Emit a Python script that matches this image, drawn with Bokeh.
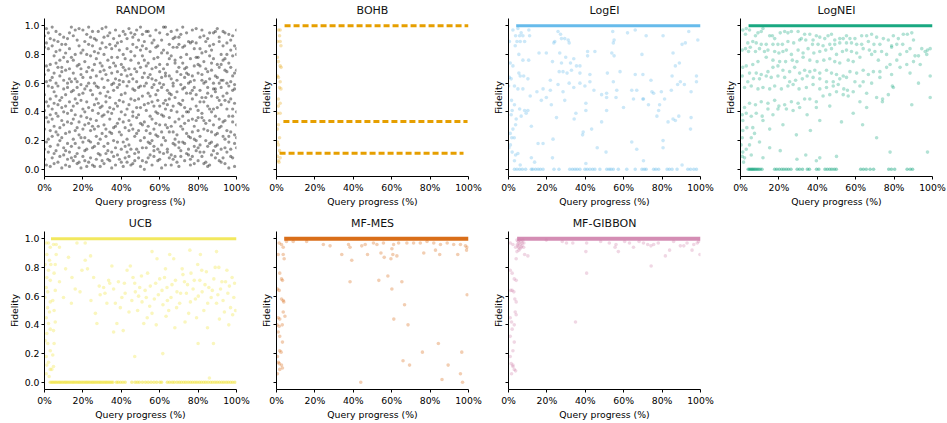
from bokeh.plotting import figure
from bokeh.models import FixedTicker, PrintfTickFormatter, CustomJSTickFormatter, Title
from bokeh.layouts import row, column
from bokeh.embed import file_html
from bokeh.resources import INLINE

# ---------------- data (x = query progress in %, y = fidelity) ----------------
TITLES = ["RANDOM", "BOHB", "LogEI", "LogNEI", "UCB", "MF-MES", "MF-GIBBON"]
COLORS = ["#000000", "#E69F00", "#56B4E9", "#009E73", "#F0E442", "#D55E00", "#CC79A7"]
X_TICKS = [0, 20, 40, 60, 80, 100]
Y_TICKS = [0.0, 0.2, 0.4, 0.6, 0.8, 1.0]

# RANDOM: row i holds the fidelities sampled at i % of the query budget
RANDOM_Y = [
    [.93, .41, .07, .66, .28, .85, .52, .14], [.36, .98, .61, .19, .03, .47, .72, .88],
    [.58, .12, .84, .33, .69, .95, .21, .44], [.27, .73, .49, .91, .16, .38, .62, .02],
    [.64, .08, .35, .57, .86, .23, .99, .42], [.11, .54, .79, .30, .46, .67, .04, .90],
    [.82, .39, .26, .74, .60, .13, .51, .96], [.45, .89, .17, .05, .71, .58, .37, .24],
    [.20, .65, .94, .48, .09, .83, .29, .76], [.71, .01, .43, .87, .34, .22, .68, .50],
    [.15, .78, .56, .40, .92, .62, .10, .31], [.87, .25, .03, .69, .52, .44, .81, .13],
    [.39, .60, .91, .18, .75, .07, .33, .57], [.02, .47, .70, .84, .26, .95, .12, .63],
    [.54, .32, .16, .61, .99, .41, .78, .08], [.76, .93, .44, .21, .06, .55, .67, .35],
    [.09, .18, .63, .97, .38, .80, .49, .27], [.61, .72, .29, .11, .57, .04, .90, .46],
    [.33, .05, .86, .52, .73, .24, .15, .98], [.48, .81, .37, .66, .01, .59, .22, .70],
    [.97, .28, .53, .09, .64, .42, .83, .19], [.22, .56, .75, .31, .89, .13, .40, .06],
    [.68, .14, .02, .80, .47, .36, .94, .58], [.05, .87, .60, .43, .20, .71, .32, .99],
    [.79, .35, .19, .92, .55, .08, .64, .27], [.41, .69, .96, .15, .30, .86, .03, .52],
    [.16, .02, .45, .73, .82, .60, .28, .91], [.58, .90, .34, .23, .07, .49, .77, .65],
    [.30, .46, .81, .57, .96, .18, .11, .39], [.84, .21, .10, .68, .43, .74, .53, .02],
    [.06, .63, .72, .37, .25, .98, .88, .44], [.92, .38, .57, .04, .69, .31, .16, .80],
    [.47, .11, .28, .85, .51, .66, .99, .23], [.13, .76, .93, .40, .18, .07, .62, .54],
    [.71, .50, .06, .26, .95, .43, .35, .87], [.25, .84, .67, .12, .39, .78, .01, .59],
    [.60, .29, .42, .91, .74, .20, .55, .09], [.03, .97, .15, .63, .46, .86, .30, .72],
    [.88, .44, .78, .32, .10, .57, .68, .19], [.35, .07, .59, .83, .62, .26, .93, .48],
    [.52, .73, .24, .05, .89, .40, .14, .66], [.19, .61, .96, .47, .33, .71, .80, .02],
    [.77, .16, .38, .69, .08, .94, .53, .29], [.42, .91, .05, .21, .58, .12, .65, .84],
    [.09, .34, .70, .98, .27, .45, .17, .61], [.66, .82, .49, .14, .76, .31, .03, .95],
    [.28, .04, .87, .56, .40, .63, .92, .37], [.94, .55, .23, .79, .11, .06, .48, .70],
    [.14, .68, .61, .36, .85, .97, .25, .43], [.57, .27, .12, .90, .49, .74, .38, .08],
    [.83, .43, .99, .02, .20, .58, .71, .32], [.31, .79, .51, .64, .94, .15, .06, .86],
    [.00, .58, .33, .45, .67, .89, .22, .76], [.72, .15, .84, .27, .05, .41, .60, .96],
    [.46, .96, .08, .74, .53, .30, .19, .64], [.18, .37, .66, .10, .82, .51, .93, .25],
    [.63, .70, .20, .88, .35, .03, .47, .57], [.90, .09, .44, .59, .16, .77, .28, .13],
    [.24, .52, .97, .32, .71, .62, .85, .40], [.55, .86, .14, .06, .48, .23, .39, .78],
    [.07, .31, .73, .95, .60, .44, .12, .68], [.81, .64, .38, .17, .26, .90, .57, .01],
    [.37, .22, .59, .83, .99, .11, .70, .46], [.65, .99, .03, .48, .42, .67, .31, .20],
    [.12, .45, .81, .29, .14, .55, .94, .73], [.49, .77, .26, .65, .87, .36, .08, .53],
    [.96, .10, .52, .41, .03, .79, .63, .30], [.26, .60, .91, .07, .58, .18, .44, .85],
    [.74, .33, .17, .76, .92, .50, .21, .09], [.40, .85, .68, .54, .24, .05, .97, .62],
    [.02, .19, .46, .92, .71, .87, .35, .15], [.59, .94, .30, .13, .45, .66, .09, .78],
    [.85, .48, .74, .37, .19, .28, .56, .99], [.32, .06, .57, .70, .86, .43, .18, .64],
    [.67, .71, .11, .25, .53, .95, .80, .40], [.10, .40, .89, .60, .34, .14, .66, .23],
    [.53, .88, .22, .03, .77, .61, .42, .07], [.89, .26, .65, .49, .09, .35, .97, .55],
    [.21, .57, .04, .84, .62, .72, .30, .16], [.44, .13, .78, .34, .98, .20, .52, .88],
    [.78, .67, .36, .15, .41, .06, .73, .27], [.17, .92, .55, .72, .23, .84, .12, .47],
    [.62, .36, .09, .97, .66, .50, .39, .81], [.04, .75, .47, .28, .12, .93, .60, .34],
    [.50, .20, .82, .61, .89, .32, .05, .70], [.91, .53, .27, .44, .57, .68, .16, .02],
    [.34, .03, .63, .86, .18, .42, .79, .95], [.69, .83, .40, .19, .74, .10, .51, .26],
    [.13, .42, .95, .56, .31, .77, .87, .60], [.56, .65, .16, .08, .96, .54, .24, .37],
    [.98, .17, .50, .73, .43, .25, .64, .11], [.29, .89, .71, .35, .06, .60, .92, .48],
    [.73, .30, .05, .62, .80, .14, .45, .57], [.08, .62, .86, .23, .51, .96, .33, .76],
    [.48, .95, .34, .77, .15, .04, .69, .21], [.80, .12, .60, .42, .68, .88, .27, .53],
    [.23, .74, .19, .94, .37, .47, .58, .01], [.61, .49, .83, .09, .26, .71, .14, .90],
    [.37, .08, .42, .55, .93, .33, .79, .65], [.86, .56, .24, .67, .02, .59, .46, .18],
    [.15, .80, .69, .31, .84, .22, .97, .40],
]

# BOHB: early scattered points and the three fidelity levels (1, 1/3, 1/9)
BOHB_PTS = [(1.0, .97), (1.9, .97), (1.6, .93), (0.5, .89), (1.9, .89), (2.3, .86),
            (0.5, .78), (1.0, .75), (1.9, .72), (2.4, .71), (0.5, .65), (1.0, .64),
            (1.9, .61), (1.6, .57), (2.3, .56), (1.0, .49), (1.9, .46), (1.0, .44),
            (0.5, .39), (1.9, .39), (1.0, .31), (0.5, .28), (1.6, .22), (1.0, .17),
            (1.6, .13), (0.5, .09), (1.9, .08), (1.0, .06), (1.3, .05), (0.5, .19)]
BOHB_LEVELS = [1.0, 0.333, 0.111]
BOHB_START = [4.2, 3.6, 1.6]
BOHB_END = [100.0, 99.5, 97.4]

# where the dense band of full-fidelity queries (y = 1) starts
BAND_START = {"LogEI": 4.0, "LogNEI": 4.2, "UCB": 3.4, "MF-MES": 4.0, "MF-GIBBON": 4.5}

LOGEI_PTS = [
    (4.9, .98), (2.3, .97), (6.6, .95), (10.6, .97), (3.7, .93), (5.8, .93), (7.5, .93),
    (0.5, .89), (4.4, .89), (3.5, .86), (6.1, .89), (8.4, .89), (11.0, .93), (25.8, .96),
    (27.1, .94), (24.1, .89), (23.6, .88), (27.6, .91), (29.3, .91), (31.1, .90), (31.6, .88),
    (54.3, .96), (55.0, .90), (54.6, .88), (62.0, .95), (66.0, .97), (71.7, .93), (80.5, .93),
    (93.9, .96), (98.6, .90), (92.1, .88), (90.4, .87), (5.4, .80), (7.5, .76), (10.5, .76),
    (19.7, .81), (15.9, .81), (26.7, .81), (22.9, .75), (27.6, .74), (32.3, .74), (35.4, .72),
    (37.2, .72), (41.2, .82), (45.0, .82), (41.2, .79), (29.8, .78), (34.0, .77), (26.4, .68),
    (28.4, .68), (30.5, .67), (32.8, .69), (37.2, .67), (42.4, .66), (51.5, .67), (53.8, .81),
    (55.0, .79), (58.1, .68), (69.5, .80), (66.0, .66), (70.0, .66), (74.2, .62), (85.7, .81),
    (86.9, .72), (89.5, .61), (85.2, .65), (89.0, .74), (97.9, .65), (0.9, .74), (2.3, .72),
    (5.4, .67), (0.5, .64), (1.4, .63), (6.1, .65), (7.9, .65), (10.1, .63), (3.1, .58),
    (4.9, .56), (7.5, .56), (11.3, .51), (14.8, .54), (18.0, .56), (21.8, .62), (21.8, .55),
    (25.8, .59), (28.4, .54), (31.6, .60), (34.0, .57), (37.2, .60), (39.8, .58), (42.4, .61),
    (44.5, .55), (48.5, .52), (51.1, .53), (54.6, .61), (56.4, .55), (64.2, .55), (66.8, .55),
    (70.0, .49), (75.6, .53), (79.6, .54), (81.3, .49), (84.8, .55), (88.1, .59), (91.6, .59),
    (95.1, .54), (97.9, .61), (0.0, .58), (1.6, .48), (3.1, .45), (1.9, .41), (5.8, .42),
    (8.4, .41), (10.1, .41), (6.6, .37), (4.0, .35), (1.4, .38), (3.7, .31), (2.3, .28),
    (0.9, .25), (3.0, .22), (1.7, .22), (1.0, .17), (0.2, .15), (1.9, .12), (3.7, .10),
    (4.9, .11), (3.1, .06), (6.1, .03), (9.2, .39), (11.9, .30), (17.1, .48), (19.7, .50),
    (22.3, .45), (25.0, .36), (29.3, .48), (34.2, .35), (35.1, .39), (40.3, .46), (40.3, .41),
    (43.3, .28), (38.9, .26), (38.6, .24), (48.5, .33), (51.1, .41), (51.1, .50), (56.0, .50),
    (59.9, .43), (65.1, .49), (70.3, .49), (74.7, .54), (72.9, .45), (78.7, .45), (78.2, .41),
    (77.3, .37), (83.1, .33), (85.7, .35), (86.9, .34), (88.7, .37), (95.1, .36), (94.8, .28),
    (64.2, .19), (66.8, .14), (70.3, .06), (80.5, .20), (80.5, .15), (90.4, .03), (46.2, .15),
    (50.8, .12), (40.3, .04), (23.2, .21), (15.4, .18), (18.0, .18), (11.9, .08), (13.6, .05),
    (22.9, .08),
]
LOGEI_ZERO_X = [3.1, 4.4, 5.8, 7.2, 8.9, 11.9, 12.7, 14.1, 15.4, 16.6, 18.0, 23.7, 26.3, 31.9,
                33.3, 34.6, 35.8, 37.2, 39.8, 41.0, 42.4, 43.8, 45.0, 47.6, 51.2, 52.4, 53.4,
                54.6, 57.2, 61.6, 66.0, 69.5, 70.7, 71.7, 75.6, 76.8, 78.2, 82.6, 83.8, 85.2,
                87.8, 93.4, 94.8, 96.5, 97.9]

LOGNEI_PTS = [
    (1.2, .97), (3.0, .98), (4.7, .97), (2.6, .94), (3.8, .88), (6.4, .89), (7.8, .93), (9.1, .95),
    (10.8, .96), (11.7, .98), (15.2, .93), (16.6, .93), (17.8, .91), (20.7, .95), (23.0, .96),
    (24.7, .95), (26.5, .96), (30.0, .96), (31.7, .91), (33.4, .94), (36.1, .94), (37.8, .90),
    (39.5, .93), (41.3, .92), (43.9, .91), (45.6, .93), (47.4, .94), (49.1, .90), (51.7, .91),
    (53.5, .91), (55.2, .93), (57.0, .91), (59.6, .91), (63.1, .93), (65.7, .93), (68.3, .94),
    (70.9, .92), (74.4, .91), (77.0, .90), (79.6, .93), (82.2, .91), (84.8, .94), (86.9, .94),
    (89.2, .95), (90.1, .90), (84.5, .87), (81.4, .87), (78.7, .86), (72.6, .87), (69.5, .87),
    (66.6, .89), (63.1, .87), (60.5, .87), (57.8, .88), (55.2, .88), (51.7, .88), (49.1, .87),
    (46.5, .87), (43.0, .86), (40.4, .87), (37.5, .87), (34.0, .90), (30.8, .90), (27.7, .88),
    (24.7, .89), (21.8, .87), (19.5, .87), (16.9, .87), (13.4, .87), (10.8, .87), (8.2, .88),
    (5.1, .85), (2.6, .84), (0.9, .83), (4.2, .82), (7.8, .82), (9.9, .84), (12.5, .82),
    (14.3, .83), (17.8, .82), (20.0, .81), (22.1, .82), (23.9, .83), (26.5, .80), (30.0, .83),
    (32.6, .81), (35.2, .84), (38.2, .81), (41.3, .82), (44.4, .83), (47.4, .84), (50.0, .80),
    (53.1, .82), (55.2, .83), (57.8, .82), (60.5, .81), (63.9, .84), (67.1, .83), (70.0, .82),
    (73.5, .82), (76.1, .80), (78.7, .85), (83.1, .80), (86.6, .82), (90.9, .79), (92.7, .79),
    (96.2, .82), (97.4, .83), (98.8, .84), (97.0, .80), (94.4, .84), (88.3, .84),
    (81.4, .76), (77.9, .73), (71.8, .76), (68.3, .80), (62.2, .78), (58.7, .75), (56.1, .76),
    (51.7, .74), (49.1, .75), (46.5, .77), (43.4, .76), (39.9, .75), (36.1, .76), (32.6, .78),
    (29.4, .75), (27.0, .76), (23.5, .75), (20.4, .75), (16.9, .76), (13.4, .78), (9.1, .75),
    (6.4, .73), (3.0, .72), (1.2, .71), (4.7, .67), (8.2, .67), (10.8, .66), (14.3, .68),
    (16.9, .71), (19.5, .72), (22.1, .69), (25.6, .68), (28.2, .71), (30.8, .67), (33.4, .69),
    (36.1, .68), (38.7, .69), (41.3, .67), (44.8, .69), (47.4, .67), (50.0, .66), (53.5, .65),
    (57.0, .68), (60.5, .67), (63.9, .69), (66.6, .66), (69.2, .68), (72.6, .68), (76.1, .71),
    (78.7, .66), (83.1, .71), (86.6, .73), (90.1, .75), (93.6, .73), (98.8, .65), (92.7, .60),
    (88.3, .67), (79.1, .58), (72.6, .64), (68.3, .60), (63.9, .61), (59.6, .61), (55.2, .64),
    (51.7, .63), (48.3, .61), (44.8, .61), (41.3, .63), (37.8, .64), (34.7, .65), (32.2, .63),
    (28.7, .62), (25.6, .61), (23.0, .64), (19.5, .65), (16.0, .64), (13.4, .65), (9.9, .63),
    (6.8, .63), (3.8, .61), (0.9, .65),
    (2.1, .57), (5.6, .58), (9.1, .56), (11.7, .57), (15.2, .56), (17.8, .58), (21.3, .56),
    (24.7, .58), (27.4, .59), (30.5, .56), (34.3, .57), (37.8, .59), (41.3, .56), (44.8, .57),
    (48.3, .58), (50.9, .59), (53.8, .56), (55.7, .55), (58.7, .54), (62.2, .58), (65.7, .53),
    (70.9, .50), (74.0, .49), (77.0, .52), (79.6, .57), (98.8, .50), (89.2, .45), (73.9, .47),
    (62.2, .47), (56.1, .51), (53.5, .52), (50.0, .54), (46.5, .52), (43.0, .51), (39.5, .47),
    (36.1, .49), (33.4, .49), (30.0, .46), (26.5, .47), (23.0, .45), (20.0, .44), (17.8, .48),
    (14.3, .46), (10.8, .47), (7.8, .45), (4.7, .46), (2.1, .43), (3.0, .39), (5.6, .37),
    (8.2, .39), (11.3, .37), (14.3, .42), (16.9, .38), (19.5, .42), (23.9, .42), (27.4, .41),
    (30.8, .43), (34.7, .38), (39.5, .43), (46.5, .44), (52.6, .33), (63.6, .31), (70.9, .22),
    (65.7, .43), (58.7, .39), (41.3, .34), (36.4, .27), (29.1, .24), (22.1, .31), (15.2, .28),
    (11.7, .34), (6.4, .29), (3.3, .29), (1.2, .27), (0.9, .22), (5.6, .22), (7.3, .25),
    (9.9, .19), (4.7, .17), (3.0, .14), (1.2, .12), (2.1, .08), (5.6, .10), (11.7, .08),
    (15.2, .15), (20.7, .13), (29.4, .07), (34.0, .10), (39.5, .06), (41.3, .08), (50.0, .09),
    (77.9, .12), (97.4, .12), (0.9, .38), (1.2, .34), (0.3, .17), (0.9, .09), (1.6, .05),
]
LOGNEI_ZERO_X = [4.0, 4.6, 5.2, 5.8, 6.3, 6.9, 7.5, 8.1, 8.8, 9.5, 10.3, 11.2, 17.8, 18.9, 20.2,
                 21.5, 22.6, 23.8, 25.0, 26.3, 29.5, 30.8, 32.3, 34.8, 35.9, 39.6, 40.8, 44.0,
                 45.2, 46.5, 47.6, 48.8, 49.9, 62.6, 64.0, 65.5, 67.5, 69.3, 77.2, 78.6, 80.3,
                 86.8, 88.4, 89.6]

UCB_PTS = [
    (0.9, .97), (2.1, .97), (3.0, .94), (1.2, .89), (2.6, .85), (0.3, .82), (3.3, .82), (2.1, .78),
    (1.2, .73), (3.0, .71), (0.9, .66), (1.7, .63), (0.3, .59), (3.0, .56), (1.6, .52), (2.6, .49),
    (0.9, .45), (2.1, .41), (3.0, .37), (1.2, .34), (0.3, .29), (1.7, .27), (3.0, .22), (0.9, .18),
    (2.1, .14), (1.2, .12), (3.0, .09), (3.8, .09), (0.9, .06), (2.4, .04), (4.7, .11), (4.3, .19),
    (5.0, .27), (4.7, .36), (5.6, .42), (5.0, .50), (4.3, .57), (5.6, .64), (5.0, .76), (5.6, .82),
    (6.1, .89), (4.7, .96), (6.1, .96), (7.8, .94), (12.5, .87), (7.8, .70), (9.9, .59),
    (14.3, .73), (16.0, .65), (19.5, .78), (21.2, .85), (22.4, .79), (24.2, .57), (25.6, .73),
    (27.3, .41), (29.0, .61), (30.8, .66), (32.5, .55), (33.4, .71), (35.1, .81), (36.0, .65),
    (36.9, .55), (37.7, .41), (39.5, .52), (40.3, .59), (41.6, .69), (43.0, .78), (44.7, .81),
    (46.1, .73), (47.3, .63), (48.5, .50), (49.6, .66), (50.8, .56), (51.7, .41), (53.0, .59),
    (53.7, .76), (55.1, .67), (56.0, .48), (57.2, .58), (58.6, .86), (60.0, .72), (61.2, .64),
    (61.7, .54), (63.0, .79), (63.8, .66), (64.7, .50), (65.9, .59), (67.3, .86), (68.2, .71),
    (69.0, .63), (70.4, .55), (71.7, .79), (72.9, .70), (73.9, .62), (75.1, .48), (76.3, .76),
    (77.4, .65), (78.6, .58), (79.8, .82), (80.9, .71), (82.1, .63), (83.0, .50), (84.3, .77),
    (85.6, .66), (86.8, .59), (88.2, .72), (89.6, .55), (90.8, .80), (91.7, .65), (93.0, .57),
    (94.3, .70), (95.5, .62), (96.9, .52), (97.7, .73), (98.6, .59), (99.5, .50), (16.9, .97),
    (21.2, .97), (56.0, .91), (65.2, .89), (75.7, .92), (81.2, .89), (89.6, .91), (47.0, .18),
    (61.6, .20), (85.9, .03), (38.5, .70), (42.0, .62), (45.5, .57), (47.0, .69), (50.5, .74),
    (52.4, .64), (54.8, .53), (57.9, .69), (59.3, .61), (62.5, .73), (64.0, .57), (66.4, .68),
    (68.8, .52), (70.9, .62), (72.1, .75), (74.5, .68), (76.0, .56), (78.0, .71), (80.1, .60),
    (81.9, .78), (83.6, .68), (85.0, .55), (87.4, .64), (88.9, .80), (90.3, .61), (92.4, .70),
    (93.7, .49), (95.0, .78), (96.3, .67), (98.0, .47), (99.0, .69), (44.0, .49), (49.0, .60),
    (53.5, .45), (58.2, .40), (63.3, .46), (67.9, .38), (73.2, .42), (79.2, .45), (84.9, .38),
    (91.1, .44), (96.0, .40), (88.0, .27), (80.0, .27), (36.0, .35), (41.0, .36), (26.5, .48),
    (18.5, .63), (14.0, .55), (11.0, .79), (24.0, .88), (31.5, .62), (34.0, .69), (28.5, .67),
]
UCB_ZERO_X = [3.0, 3.8, 4.5, 5.3, 6.0, 6.8, 7.6, 8.3, 9.1, 9.9, 10.7, 11.4, 12.2, 13.0, 13.8,
              14.6, 15.3, 16.1, 16.9, 17.7, 18.4, 19.2, 20.0, 20.8, 21.6, 22.3, 23.1, 23.9, 24.7,
              25.4, 26.2, 27.0, 27.8, 28.6, 29.3, 30.1, 30.9, 31.7, 32.4, 33.2, 34.0, 34.8, 35.6,
              37.5, 38.4, 39.6, 40.8, 42.0, 45.5, 47.2, 48.3, 49.4, 51.0, 52.6, 54.0, 55.5, 57.0,
              58.4, 60.1, 61.0, 64.0, 65.2, 66.5, 67.6, 69.0, 70.2, 71.3, 72.5, 73.6, 74.8, 76.0,
              77.1, 78.3, 79.4, 80.6, 81.7, 82.9, 84.0, 85.2, 86.5, 87.6, 88.8, 89.9, 91.1, 92.3,
              93.4, 94.6, 95.7, 96.9, 98.0, 99.2]

MFMES_PTS = [
    (5.2, .98), (8.7, .98), (15.7, .98), (24.4, .96), (27.9, .95), (37.5, .96), (38.3, .94),
    (44.4, .95), (46.2, .96), (50.5, .97), (52.3, .96), (55.7, .97), (61.0, .96), (63.6, .97),
    (67.9, .97), (71.4, .97), (74.9, .97), (78.4, .98), (81.9, .97), (85.4, .96), (88.9, .97),
    (92.3, .96), (95.8, .96), (98.4, .95), (99.3, .94), (34.0, .89), (39.2, .85), (47.4, .89),
    (54.4, .90), (56.1, .87), (60.1, .93), (60.6, .89), (62.7, .88), (59.6, .86), (76.7, .90),
    (82.8, .92), (85.0, .89), (94.4, .89), (99.0, .92), (1.4, .97), (2.6, .96), (3.5, .94),
    (0.9, .89), (3.5, .89), (4.0, .86), (1.7, .76), (2.6, .72), (3.1, .71), (0.5, .65),
    (1.4, .64), (2.6, .58), (3.5, .57), (3.8, .56), (3.5, .49), (4.4, .46), (0.9, .45),
    (1.7, .44), (0.3, .40), (1.4, .39), (3.0, .40), (0.9, .35), (1.7, .32), (3.1, .28),
    (1.7, .22), (2.4, .21), (0.5, .18), (1.0, .14), (1.4, .13), (2.6, .12), (3.1, .10),
    (1.7, .09), (0.5, .06), (38.3, .70), (53.3, .71), (58.0, .74), (65.3, .70), (60.1, .65),
    (66.7, .54), (61.1, .44), (68.5, .40), (84.3, .27), (76.0, .21), (96.5, .21), (65.9, .15),
    (69.3, .12), (89.4, .12), (95.8, .06), (86.2, .02), (96.9, .00), (43.9, .00), (99.3, .61),
]

MFGIBBON_PTS = [
    (4.4, .99), (5.4, .97), (6.1, .96), (7.2, .97), (4.9, .95), (6.6, .94), (7.9, .94), (3.7, .94),
    (4.4, .91), (5.4, .92), (4.0, .86), (8.4, .89), (10.1, .88), (2.3, .96), (0.9, .97),
    (19.7, .99), (30.2, .97), (40.7, .97), (40.3, .91), (40.7, .76), (55.5, .94), (57.2, .91),
    (65.1, .94), (70.3, .97), (74.2, .95), (75.6, .96), (81.7, .88), (83.9, .92), (74.3, .81),
    (89.5, .95), (91.3, .95), (95.6, .92), (98.3, .97), (99.7, .89), (34.9, .42), (0.9, .78),
    (1.9, .76), (3.0, .72), (4.0, .71), (1.2, .64), (1.9, .64), (2.8, .63), (3.3, .58),
    (4.0, .56), (3.5, .49), (4.0, .47), (0.9, .45), (1.6, .42), (3.0, .40), (1.9, .37),
    (0.9, .32), (3.0, .28), (2.3, .22), (0.9, .18), (1.4, .13), (2.3, .11), (3.0, .09),
    (3.7, .08), (1.6, .06), (2.3, .12), (28.0, .98), (33.5, .97), (48.0, .98), (52.5, .97),
    (56.0, .96), (60.5, .98), (63.0, .97), (68.0, .98), (72.5, .96), (78.0, .97), (86.0, .98),
    (93.0, .97), (96.5, .96), (99.0, .98), (5.0, .98), (5.8, .99), (6.5, .98), (7.0, .95),
    (4.6, .96), (6.0, .93), (7.5, .99), (8.0, .97), (5.2, .94),
]

# ---------------- styling helpers ----------------
FONT = "DejaVu Sans"
FW, FH = 192, 158


def make_fig(title, first_col, bottom):
    ttl = Title(text=title, align="center", text_font=FONT, text_font_size="11px",
                text_font_style="normal", text_color="#111111", standoff=3)
    p = figure(title=ttl, frame_width=FW, frame_height=FH, x_range=(0, 100),
               y_range=(-0.05, 1.05), output_backend="svg", toolbar_location=None,
               min_border_left=44 if first_col else 26, min_border_right=14,
               min_border_top=0, min_border_bottom=bottom,
               background_fill_color="white", border_fill_color="white")
    p.outline_line_color = None
    p.grid.visible = False
    for ax in (p.xaxis[0], p.yaxis[0]):
        ax.axis_line_color = "black"
        ax.axis_line_width = 1
        ax.major_tick_line_color = "black"
        ax.major_tick_line_width = 1
        ax.major_tick_in = 0
        ax.major_tick_out = 3
        ax.minor_tick_line_color = None
        ax.major_label_text_font = FONT
        ax.major_label_text_font_size = "9.3px"
        ax.major_label_text_color = "black"
        ax.major_label_standoff = 2
        ax.axis_label_text_font = FONT
        ax.axis_label_text_font_size = "9.3px"
        ax.axis_label_text_font_style = "normal"
        ax.axis_label_text_color = "black"
        ax.axis_label_standoff = 0
    p.xaxis.ticker = FixedTicker(ticks=X_TICKS)
    p.xaxis.formatter = PrintfTickFormatter(format="%d%%")
    p.xaxis.axis_label = "Query progress (%)"
    p.yaxis.ticker = FixedTicker(ticks=Y_TICKS)
    p.yaxis.axis_label = "Fidelity"
    p.yaxis.axis_label_standoff = 2
    if first_col:
        p.yaxis.formatter = PrintfTickFormatter(format="%.1f")
    else:
        p.yaxis.formatter = CustomJSTickFormatter(code="return ''")
        p.yaxis.major_label_standoff = 0
    return p


def dots(p, pts, color, alpha=0.3, size=3.6):
    p.scatter(x=[a for a, _ in pts], y=[b for _, b in pts], size=size,
              fill_color=color, fill_alpha=alpha, line_color=None)


def band(p, start, color, width=3, alpha=0.9):
    p.segment(x0=[start], y0=[1.0], x1=[100], y1=[1.0], line_color=color,
              line_width=width, line_alpha=alpha)


ROW1_BOTTOM, ROW2_BOTTOM = 37, 33

# RANDOM
f_rand = make_fig(TITLES[0], True, ROW1_BOTTOM)
rx = [i for i, r in enumerate(RANDOM_Y) for _ in r]
ry = [v for r in RANDOM_Y for v in r]
f_rand.scatter(x=rx, y=ry, size=3.2, fill_color=COLORS[0], fill_alpha=0.42, line_color=None)

# BOHB
f_bohb = make_fig(TITLES[1], False, ROW1_BOTTOM)
dots(f_bohb, BOHB_PTS, COLORS[1], alpha=0.3)
f_bohb.segment(x0=BOHB_START, y0=BOHB_LEVELS, x1=BOHB_END, y1=BOHB_LEVELS,
               line_color=COLORS[1], line_width=3, line_dash="6 3")

# LogEI
f_ei = make_fig(TITLES[2], False, ROW1_BOTTOM)
dots(f_ei, LOGEI_PTS, COLORS[2], alpha=0.3)
dots(f_ei, [(x, 0.0) for x in LOGEI_ZERO_X], COLORS[2], alpha=0.35)
band(f_ei, BAND_START["LogEI"], COLORS[2])

# LogNEI
f_nei = make_fig(TITLES[3], False, ROW1_BOTTOM)
dots(f_nei, LOGNEI_PTS, COLORS[3], alpha=0.3)
dots(f_nei, [(x, 0.0) for x in LOGNEI_ZERO_X], COLORS[3], alpha=0.4)
band(f_nei, BAND_START["LogNEI"], COLORS[3])

# UCB
f_ucb = make_fig(TITLES[4], True, ROW2_BOTTOM)
dots(f_ucb, UCB_PTS, COLORS[4], alpha=0.35)
dots(f_ucb, [(x, 0.0) for x in UCB_ZERO_X], COLORS[4], alpha=0.55)
band(f_ucb, BAND_START["UCB"], COLORS[4], alpha=0.85)

# MF-MES
f_mes = make_fig(TITLES[5], False, ROW2_BOTTOM)
dots(f_mes, MFMES_PTS, COLORS[5], alpha=0.3)
band(f_mes, BAND_START["MF-MES"], COLORS[5], width=4, alpha=0.9)

# MF-GIBBON
f_gib = make_fig(TITLES[6], False, ROW2_BOTTOM)
dots(f_gib, MFGIBBON_PTS, COLORS[6], alpha=0.3)
band(f_gib, BAND_START["MF-GIBBON"], COLORS[6], width=4, alpha=0.85)

layout = column(row(f_rand, f_bohb, f_ei, f_nei, spacing=0),
                row(f_ucb, f_mes, f_gib, spacing=0), spacing=0)

open("out.html", "w").write(file_html(layout, INLINE))
